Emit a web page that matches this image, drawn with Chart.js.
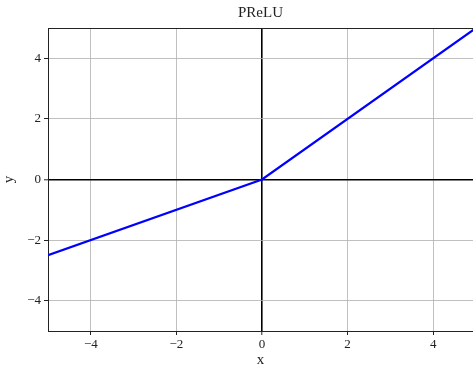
<!DOCTYPE html>
<html>
<head>
<meta charset="utf-8">
<script src="https://cdn.jsdelivr.net/npm/chart.js@4/dist/chart.umd.min.js"></script>
<style>
html,body{margin:0;padding:0;background:#fff;}
#wrap{width:473px;height:369px;position:relative;}
</style>
</head>
<body>
<div id="wrap"><canvas id="c" width="473" height="369"></canvas></div>
<script>
const xValues = [-5, 0, 5];
const yValues = [-2.5, 0, 5];
const xTicks = [-4, -2, 0, 2, 4];
const yTicks = [-4, -2, 0, 2, 4];
const titleText = 'PReLU';
const xLabel = 'x';
const yLabel = 'y';

const FONT = "'Liberation Serif', serif";
const fmt = v => (v < 0 ? '\u2212' + Math.abs(v) : String(v));

const topSpine = {
  id: 'topSpine',
  afterDatasetsDraw(chart) {
    const a = chart.chartArea, ctx = chart.ctx;
    ctx.save();
    ctx.strokeStyle = '#222';
    ctx.lineWidth = 1;
    ctx.beginPath();
    ctx.moveTo(a.left, a.top + 0.5);
    ctx.lineTo(a.right, a.top + 0.5);
    ctx.stroke();
    ctx.restore();
  }
};

const gridColor = ctx => (ctx.tick && ctx.tick.value === 0 ? '#000' : '#b0b0b0');
const gridWidth = ctx => (ctx.tick && ctx.tick.value === 0 ? 1.6 : 0.8);

new Chart(document.getElementById('c'), {
  type: 'scatter',
  data: {
    datasets: [{
      data: xValues.map((x, i) => ({x, y: yValues[i]})),
      showLine: true,
      borderColor: '#0000ff',
      borderWidth: 2.2,
      pointRadius: 0,
      pointHoverRadius: 0,
      fill: false
    }]
  },
  options: {
    responsive: false,
    animation: false,
    events: [],
    layout: {padding: 0},
    plugins: {
      legend: {display: false},
      tooltip: {enabled: false},
      title: {
        display: true,
        fullSize: false,
        text: titleText,
        color: '#222',
        font: {family: FONT, size: 15, weight: 'normal'},
        padding: {top: 4, bottom: 6}
      }
    },
    scales: {
      x: {
        type: 'linear',
        min: -5, max: 4.93,
        afterBuildTicks: s => { s.ticks = xTicks.map(v => ({value: v})); },
        afterFit: s => { s.height = 38; },
        ticks: {
          color: '#222',
          font: {family: FONT, size: 13},
          padding: 2,
          callback: v => fmt(v),
          maxRotation: 0
        },
        grid: {color: gridColor, lineWidth: gridWidth, tickColor: '#222', tickLength: 4, tickWidth: 1},
        border: {display: true, color: '#222', width: 1},
        title: {display: true, text: xLabel, color: '#222', font: {family: FONT, size: 15}, padding: {top: 0, bottom: 0}}
      },
      y: {
        type: 'linear',
        min: -5, max: 5,
        afterBuildTicks: s => { s.ticks = yTicks.map(v => ({value: v})); },
        afterFit: s => { s.width = 48; },
        ticks: {
          color: '#222',
          font: {family: FONT, size: 13},
          padding: 3,
          callback: v => fmt(v)
        },
        grid: {color: gridColor, lineWidth: gridWidth, tickColor: '#222', tickLength: 4, tickWidth: 1},
        border: {display: true, color: '#222', width: 1},
        title: {display: true, text: yLabel, color: '#222', font: {family: FONT, size: 15}, padding: {top: 0, bottom: 0}}
      }
    }
  },
  plugins: [topSpine]
});
</script>
</body>
</html>
